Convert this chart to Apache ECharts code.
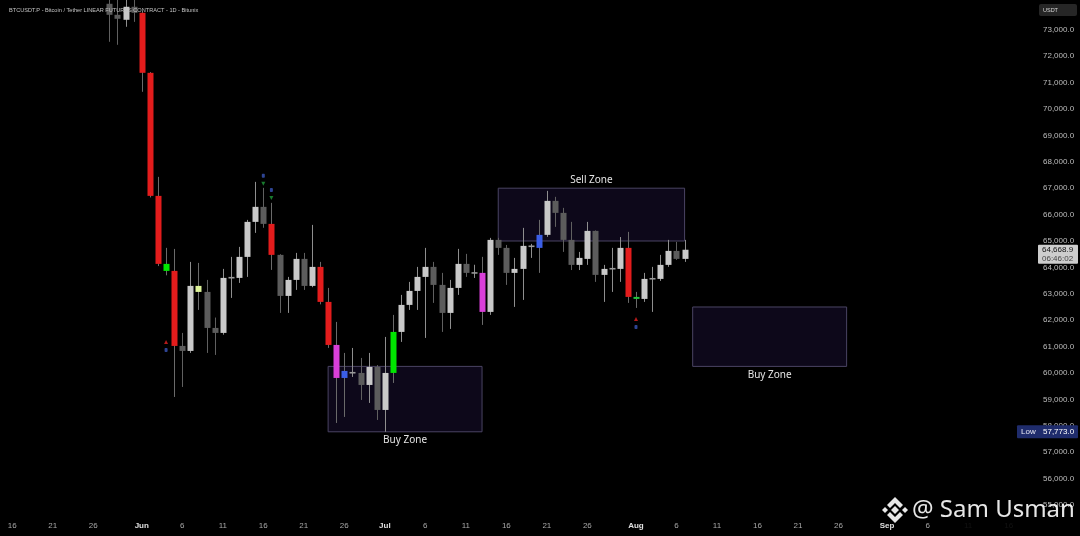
<!DOCTYPE html>
<html>
<head>
<meta charset="utf-8">
<script src="https://cdn.jsdelivr.net/npm/echarts@6/dist/echarts.min.js"></script>
<style>html,body{margin:0;padding:0;background:#000;overflow:hidden;width:1080px;height:536px;}
#c{position:absolute;left:0;top:-23px;width:1080px;height:559px;}</style>
</head>
<body>
<div id="c"></div>
<script>
// ---------- DATA ----------
const titleText = 'BTCUSDT.P - Bitcoin / Tether LINEAR FUTURES CONTRACT - 1D - Bitunix';
const axisStart = '2024-05-15';
const axisEnd = '2024-09-19';
const dates = ['2024-05-28','2024-05-29','2024-05-30','2024-05-31',
 '2024-06-01','2024-06-02','2024-06-03','2024-06-04','2024-06-05','2024-06-06','2024-06-07','2024-06-08','2024-06-09','2024-06-10',
 '2024-06-11','2024-06-12','2024-06-13','2024-06-14','2024-06-15','2024-06-16','2024-06-17','2024-06-18','2024-06-19','2024-06-20',
 '2024-06-21','2024-06-22','2024-06-23','2024-06-24','2024-06-25','2024-06-26','2024-06-27','2024-06-28','2024-06-29','2024-06-30',
 '2024-07-01','2024-07-02','2024-07-03','2024-07-04','2024-07-05','2024-07-06','2024-07-07','2024-07-08','2024-07-09','2024-07-10',
 '2024-07-11','2024-07-12','2024-07-13','2024-07-14','2024-07-15','2024-07-16','2024-07-17','2024-07-18','2024-07-19','2024-07-20',
 '2024-07-21','2024-07-22','2024-07-23','2024-07-24','2024-07-25','2024-07-26','2024-07-27','2024-07-28','2024-07-29','2024-07-30',
 '2024-07-31','2024-08-01','2024-08-02','2024-08-03','2024-08-04','2024-08-05','2024-08-06','2024-08-07'];
const opens = [73985,73568,73379,73872,
 73644,71370,66709,64133,63867,61025,60836,63299,63071,61707,
 61518,63602,63602,64398,65724,66293,65648,64474,62920,63526,
 64322,63299,64019,62693,61063,59812,60040,60002,59547,60229,
 58600,60002,61556,62579,63109,63640,64019,63337,62276,63223,
 64133,63792,63792,62314,65042,64739,63792,63943,64800,64739,
 65232,66520,66065,65042,64095,64322,65383,63716,63943,63943,
 64739,62806,62806,63564,63564,64095,64625,64322];
const closes = [73568,73417,73872,73644,
 71370,66709,64133,63867,61025,60836,63299,63071,61707,61518,
 63602,63640,64398,65724,66293,65648,64474,62920,63526,64322,
 63299,64019,62693,61063,59812,60078,60010,59547,60229,58600,
 60002,61556,62579,63109,63640,64019,63337,62276,63223,64133,
 63792,63820,62314,65042,64739,63792,63943,64815,64830,65232,
 66520,66065,65042,64095,64360,65383,63716,63943,63980,64739,
 62882,62882,63564,63600,64095,64625,64322,64669];
const lows = [72545,72432,73114,73300,
 70651,66650,64050,63700,59092,59471,60760,62389,60760,60684,
 61450,62844,63412,63640,65307,65500,63905,62276,62276,63147,
 63147,63250,62600,60950,58107,58335,59850,58979,58866,58221,
 57773,59623,61177,62389,62389,61328,62655,61556,61669,62958,
 63640,63600,61821,62200,64474,63337,62503,62768,64360,63792,
 65156,65535,64587,63900,63900,64095,63451,62693,63071,63451,
 62655,62465,62693,62314,63488,64019,64284,64208];
const highs = [74400,74250,74300,74200,
 73700,71400,67429,64739,64700,61518,64208,64170,63526,62100,
 63943,64398,64777,65800,67240,67013,66444,64500,63640,64549,
 64549,65610,64208,63223,61935,60760,60949,60570,60760,60300,
 61366,62200,62958,63451,64019,64739,64208,63792,63526,64701,
 64512,64100,64398,65118,65118,64850,64360,65497,64890,65800,
 66899,66672,66255,65724,64587,65724,65400,64095,64739,65150,
 65345,63071,63792,64019,64474,65042,64966,65042];
// signal class of each candle: d=bearish grey, l=bullish grey, n=doji, r=red, g=green, y=lime, m=magenta, b=blue, e=green doji
const signals = ['d','d','l','d',
 'r','r','r','g','r','d','l','y','d','d',
 'l','n','l','l','l','d','r','d','l','l',
 'd','l','r','r','m','b','n','d','l','d',
 'l','g','l','l','l','l','d','d','l','l',
 'd','n','m','l','d','d','l','l','n','b',
 'l','d','d','d','l','l','d','l','n','l',
 'r','e','l','n','l','l','d','l'];

const lastPrice = 64668.9;
const lastTimer = '06:46:02';
const lowPrice = 57773.0;

const zoneNames = ['Sell Zone','Buy Zone','Buy Zone'];
const zoneStart = ['2024-07-15','2024-06-24','2024-08-08'];
const zoneEnd = ['2024-08-07','2024-07-13','2024-08-27'];
const zoneTop = [67000,60250,62500];
const zoneBottom = [65000,57773,60250];

const redUpDates = ['2024-06-04','2024-08-01'];
const redUpPrices = [61177,62048];
const blueLowDates = ['2024-06-04','2024-08-01'];
const blueLowPrices = [60873,61745];
const greenDownDates = ['2024-06-16','2024-06-17'];
const greenDownPrices = [67164,66633];
const blueHighDates = ['2024-06-16','2024-06-17'];
const blueHighPrices = [67467,66936];

const yTicks = [54000,75000,1000];
const yLabelMax = 73000;
const monthNames = ['Jan','Feb','Mar','Apr','May','Jun','Jul','Aug','Sep','Oct','Nov','Dec'];
const labelDays = [1,6,11,16,21,26];

// ---------- BUILD ----------
const SHIFT = 23; // the chart div sits 23px above the page top
function pad(n){return n<10?'0'+n:''+n;}
const categories = [];
(function(){
  const d = new Date(axisStart+'T00:00:00Z'), e = new Date(axisEnd+'T00:00:00Z');
  while (d <= e) { categories.push(d.getUTCFullYear()+'-'+pad(d.getUTCMonth()+1)+'-'+pad(d.getUTCDate())); d.setUTCDate(d.getUTCDate()+1); }
})();

const bodyColors = {d:'#5c5c5c', l:'#c9c9c9', n:'#9a9a9a', r:'#e31c1c', g:'#00e600', y:'#dff59a', m:'#d93fd9', b:'#3b5ee6', e:'#22c53c'};
const wickColors = {d:'#606060', l:'#8e8e8e', n:'#8e8e8e', r:'#6a6a6a', g:'#6a6a6a', y:'#6a6a6a', m:'#6a6a6a', b:'#6a6a6a', e:'#6a6a6a'};

const candleData = dates.map((d,i)=>[d, opens[i], closes[i], lows[i], highs[i]]);

function renderCandle(params, api){
  const x = api.value(0);
  const o = api.value(1), c = api.value(2), l = api.value(3), h = api.value(4);
  const s = signals[params.dataIndex];
  const pO = api.coord([x,o]), pC = api.coord([x,c]), pL = api.coord([x,l]), pH = api.coord([x,h]);
  const w = Math.round(api.size([1,0])[0]*0.78);
  const cx = Math.round(pO[0]);
  const top = Math.min(pO[1], pC[1]);
  const hgt = Math.max(Math.abs(pO[1]-pC[1]), 1.6);
  return {type:'group', children:[
    {type:'line', shape:{x1:cx+0.5, y1:pH[1], x2:cx+0.5, y2:pL[1]}, style:{stroke:wickColors[s], lineWidth:1}},
    {type:'rect', shape:{x:cx+0.5-w/2, y:top, width:w, height:hgt}, style:{fill:bodyColors[s]}}
  ]};
}

const markAreaData = zoneNames.map((n,i)=>[
  {name:n, xAxis:zoneStart[i], yAxis:zoneTop[i], label:{position: i===0?'top':'bottom'}},
  {xAxis:zoneEnd[i], yAxis:zoneBottom[i]}
]);

const chart = echarts.init(document.getElementById('c'), null, {renderer:'canvas'});
const option = {
  backgroundColor:'#000000',
  animation:false,
  title:{text:titleText, left:4, top:SHIFT+2, textStyle:{color:'#c4c4c4', fontSize:5.6, fontWeight:'normal', fontFamily:'Liberation Sans'}},
  grid:{left:-1, right:43, top:0, bottom:4.61},
  xAxis:{
    type:'category', data:categories, boundaryGap:true, offset:-16,
    axisLine:{show:false}, axisTick:{show:false}, splitLine:{show:false},
    axisLabel:{
      margin:6, color:'#a8a8a8', fontSize:8, fontFamily:'Liberation Sans',
      interval:function(idx, val){ return labelDays.indexOf(+val.slice(8)) >= 0; },
      formatter:function(val){ const d = +val.slice(8); return d===1 ? '{m|'+monthNames[+val.slice(5,7)-1]+'}' : ''+d; },
      rich:{m:{color:'#e0e0e0', fontSize:8, fontWeight:'bold', fontFamily:'Liberation Sans'}}
    }
  },
  yAxis:{
    type:'value', position:'right', min:yTicks[0], max:yTicks[1], interval:yTicks[2],
    axisLine:{show:false}, axisTick:{show:false}, splitLine:{show:false},
    axisLabel:{margin:6, color:'#bdbdbd', fontSize:8, fontFamily:'Liberation Sans', showMinLabel:false, showMaxLabel:false,
      formatter:function(v){ return v > yLabelMax ? '' : v.toLocaleString('en-US',{minimumFractionDigits:1, maximumFractionDigits:1}); }}
  },
  series:[
    {
      type:'custom', name:'BTCUSDT', renderItem:renderCandle, data:candleData,
      encode:{x:0, y:[1,2,3,4]}, clip:false, z:3,
      markArea:{silent:true,
        itemStyle:{color:'rgba(60,36,120,0.22)', borderColor:'#4a4463', borderWidth:1},
        label:{show:true, color:'#e4e4e4', fontSize:10, fontFamily:'Noto Sans', distance:3},
        data:markAreaData}
    },
    {type:'scatter', symbol:'triangle', symbolSize:[4,4], itemStyle:{color:'#e02020'}, z:4,
      data:redUpDates.map((d,i)=>[d, redUpPrices[i]])},
    {type:'scatter', symbol:'roundRect', symbolSize:[3,4], itemStyle:{color:'#3a55b8'}, z:4,
      data:blueLowDates.map((d,i)=>[d, blueLowPrices[i]])},
    {type:'scatter', symbol:'triangle', symbolRotate:180, symbolSize:[4,4], itemStyle:{color:'#1f9a3a'}, z:4,
      data:greenDownDates.map((d,i)=>[d, greenDownPrices[i]])},
    {type:'scatter', symbol:'roundRect', symbolSize:[3,4], itemStyle:{color:'#3a55b8'}, z:4,
      data:blueHighDates.map((d,i)=>[d, blueHighPrices[i]])}
  ]
};
chart.setOption(option);

// overlays positioned through the value axis scale
const yLast = chart.convertToPixel({yAxisIndex:0}, lastPrice);
const yLow = chart.convertToPixel({yAxisIndex:0}, lowPrice);
const fmt = v => v.toLocaleString('en-US',{minimumFractionDigits:1, maximumFractionDigits:1});

const cx = 895, cy = 510 + SHIFT;
function poly(pts){ return {type:'polygon', shape:{points:pts.map(p=>[cx+p[0], cy+p[1]])}, style:{fill:'#e8e8e8'}, z:100}; }

chart.setOption({graphic:[
  // USDT badge
  {type:'rect', shape:{x:1039, y:4+SHIFT, width:38, height:12, r:2}, style:{fill:'#262626'}, z:50},
  {type:'text', x:1043, y:10+SHIFT, style:{text:'USDT', fill:'#d8d8d8', fontSize:5.5, fontFamily:'Liberation Sans', verticalAlign:'middle'}, z:51},
  // last price box
  {type:'rect', shape:{x:1038, y:yLast-5, width:40, height:19, r:1}, style:{fill:'#cdcdcd'}, z:50},
  {type:'text', x:1042, y:yLast, style:{text:fmt(lastPrice), fill:'#111', fontSize:8, fontFamily:'Liberation Sans', verticalAlign:'middle'}, z:51},
  {type:'text', x:1042, y:yLast+9, style:{text:lastTimer, fill:'#444', fontSize:8, fontFamily:'Liberation Sans', verticalAlign:'middle'}, z:51},
  // low box
  {type:'rect', shape:{x:1017, y:yLow-6.5, width:61, height:13, r:1}, style:{fill:'#1f2c6c'}, z:50},
  {type:'text', x:1021, y:yLow, style:{text:'Low', fill:'#e8e8f4', fontSize:8, fontFamily:'Liberation Sans', verticalAlign:'middle'}, z:51},
  {type:'text', x:1043, y:yLow, style:{text:fmt(lowPrice), fill:'#ffffff', fontSize:8, fontFamily:'Liberation Sans', verticalAlign:'middle'}, z:51},
  // watermark backdrop hiding the last axis dates
  {type:'rect', shape:{x:948, y:515+SHIFT, width:90, height:21}, style:{fill:'rgba(0,0,0,0.9)'}, z:90},
  poly([[0,-4],[4,0],[0,4],[-4,0]]),
  poly([[-10,-3],[-7,0],[-10,3],[-13,0]]),
  poly([[10,-3],[13,0],[10,3],[7,0]]),
  poly([[0,-13],[8,-5],[5,-2],[0,-7],[-5,-2],[-8,-5]]),
  poly([[0,13],[8,5],[5,2],[0,7],[-5,2],[-8,5]]),
  {type:'text', x:912, y:510+SHIFT, style:{text:'@ Sam Usman', fill:'rgba(255,255,255,0.9)', fontSize:24, fontFamily:'Noto Sans', verticalAlign:'middle'}, z:100}
]});
</script>
</body>
</html>
